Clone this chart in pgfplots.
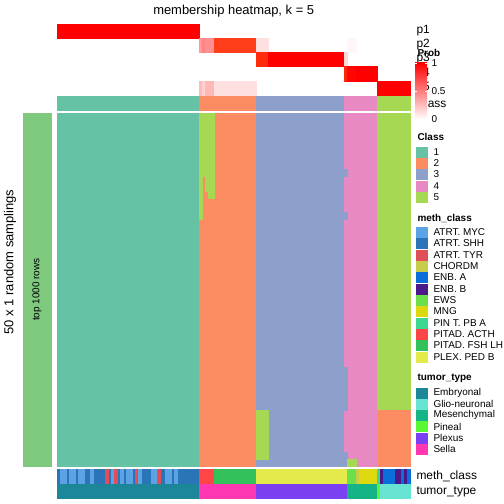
\documentclass[border=0pt]{standalone}
\usepackage{pgfplots}
\pgfplotsset{compat=1.18}
\usepackage{fontspec}
\setmainfont{Liberation Sans}
\definecolor{cA}{HTML}{66C2A5}
\definecolor{cB}{HTML}{FC8D62}
\definecolor{cC}{HTML}{8DA0CB}
\definecolor{cD}{HTML}{E78AC3}
\definecolor{cE}{HTML}{A6D854}
\definecolor{leftg}{HTML}{7FC97F}
\definecolor{mMYC}{HTML}{5CA3E6}
\definecolor{mSHH}{HTML}{2A74B8}
\definecolor{mTYR}{HTML}{E04E5A}
\definecolor{mCHO}{HTML}{C7CD4A}
\definecolor{mENA}{HTML}{0B6FD9}
\definecolor{mENB}{HTML}{4A1A8A}
\definecolor{mEWS}{HTML}{6CE04A}
\definecolor{mMNG}{HTML}{DED80E}
\definecolor{mPIN}{HTML}{3CD68E}
\definecolor{mACT}{HTML}{FF4646}
\definecolor{mFSH}{HTML}{33C15C}
\definecolor{mPLX}{HTML}{E4EA4C}
\definecolor{tEMB}{HTML}{1B8799}
\definecolor{tGLI}{HTML}{67E5D2}
\definecolor{tMES}{HTML}{14B486}
\definecolor{tPIN}{HTML}{5BF634}
\definecolor{tPLX}{HTML}{7A40F2}
\definecolor{tSEL}{HTML}{FF37B1}
\newcommand{\R}[5]{\addplot[fill=#5, draw=#5, line width=0.25pt, forget plot] coordinates {(#1,#2) (#3,#2) (#3,#4) (#1,#4)} -- cycle;}
\newcommand{\M}[3]{\R{#1}{469}{#2}{483}{#3}}
\newcommand{\T}[3]{\R{#1}{484.2}{#2}{498.5}{#3}}
\newcommand{\Lg}[3]{\R{416}{#1-5}{427}{#1+5}{#2}\node[anchor=west,font=\fontsize{10}{12}\selectfont] at (430,#1) {#3};}
\begin{document}
\begin{tikzpicture}
\useasboundingbox (0,0) rectangle (504bp,504bp);
\begin{axis}[at={(0,0)}, anchor=south west, width=504bp, height=504bp, scale only axis,
  xmin=0, xmax=504, ymin=0, ymax=504, y dir=reverse, hide axis, clip=false, no markers]
% title
\node[font=\fontsize{13}{15}\selectfont] at (233.7,11) {membership heatmap, k = 5};
% top annotation: probabilities
\R{57}{24}{199}{38}{red}
\R{199}{38}{202}{52}{red!40!white}
\R{202}{38}{205}{52}{red!48!white}
\R{205}{38}{214}{52}{red!44!white}
\R{214}{38}{256}{52}{red!68!orange!90!white}
\R{256}{38}{268}{52}{red!12!white}
\R{347}{38}{356}{52}{red!3!white}
\R{256}{52}{268}{66}{red!75!orange!95!white}
\R{268}{52}{344}{66}{red}
\R{344}{52}{347}{66}{red!15!white}
\R{344}{66}{347}{80.7}{red!80!orange!95!white}
\R{347}{66}{356}{80.7}{red!95!orange}
\R{356}{66}{377}{80.7}{red}
\R{199}{80.7}{202}{94.7}{red!27!white}
\R{202}{80.7}{205}{94.7}{red!18!white}
\R{205}{80.7}{214}{94.7}{red!28!white}
\R{214}{80.7}{256}{94.7}{red!12!white}
\R{377}{80.7}{410}{94.7}{red}
% class row
\R{57}{96}{199}{110}{cA}
\R{199}{96}{256}{110}{cB}
\R{256}{96}{344}{110}{cC}
\R{344}{96}{377}{110}{cD}
\R{377}{96}{410}{110}{cE}
% row labels
\node[anchor=west,font=\fontsize{12}{14}\selectfont] at (413,31) {p1};
\node[anchor=west,font=\fontsize{12}{14}\selectfont] at (413,45) {p2};
\node[anchor=west,font=\fontsize{12}{14}\selectfont] at (413,59) {p3};
\node[anchor=west,font=\fontsize{12}{14}\selectfont] at (413,73.3) {p4};
\node[anchor=west,font=\fontsize{12}{14}\selectfont] at (413,87.7) {p5};
\node[anchor=west,font=\fontsize{12}{14}\selectfont] at (413,103) {Class};
% left bar
\R{23}{113.3}{51}{466}{leftg}
\node[rotate=90,font=\fontsize{10}{12}\selectfont] at (37,289.6) {top 1000 rows};
\node[rotate=90,font=\fontsize{13}{15}\selectfont] at (10,262) {50 x 1 random samplings};
% main heatmap
\R{57}{113.3}{199}{466}{cA}
\R{199}{113.3}{256}{466}{cB}
\R{256}{113.3}{344}{466}{cC}
\R{344}{113.3}{377}{466}{cD}
\R{377}{113.3}{410}{410}{cE}
\R{377}{410}{410}{466}{cB}
\R{199}{113.3}{202}{218.7}{cE}
\R{202}{113.3}{205}{175.7}{cE}
\R{205}{113.3}{208}{190.7}{cE}
\R{208}{113.3}{214}{197.7}{cE}
\R{344}{169}{347}{175.7}{cC}
\R{344}{212}{347}{219}{cC}
\R{344}{366.7}{347}{410}{cC}
\R{344}{451.7}{347}{466}{cC}
\R{256}{410}{268}{459}{cE}
\R{347}{458.7}{356}{466}{cE}
% meth_class row
\M{57}{199}{mSHH}
\M{60}{66}{mMYC}
\M{69}{75}{mMYC}
\M{78}{84}{mMYC}
\M{90}{93}{mMYC}
\M{105}{108}{mTYR}
\M{111}{114}{mMYC}
\M{114}{117}{mTYR}
\M{120}{123}{mMYC}
\M{126}{132}{mMYC}
\M{135}{138}{mTYR}
\M{138}{141}{mMYC}
\M{151}{157}{mMYC}
\M{157}{160}{mTYR}
\M{165}{171}{mMYC}
\M{174}{177}{mMYC}
\M{199}{213.7}{mACT}
\M{213.7}{256}{mFSH}
\M{256}{347}{mPLX}
\M{347}{356}{mEWS}
\M{356}{359}{mCHO}
\M{359}{377}{mMNG}
\M{377}{380}{mPIN}
\M{380}{383}{mENB}
\M{383}{395}{mENA}
\M{395}{401}{mENB}
\M{401}{404}{mENA}
\M{404}{407}{mENB}
\M{407}{410}{mENA}
% tumor_type row
\T{57}{199}{tEMB}
\T{199}{256}{tSEL}
\T{256}{347}{tPLX}
\T{347}{377}{tMES}
\T{377}{380}{tPIN}
\T{380}{410}{tGLI}
\node[anchor=west,font=\fontsize{12}{14}\selectfont] at (413,476) {meth\_class};
\node[anchor=west,font=\fontsize{12}{14}\selectfont] at (413,491.5) {tumor\_type};
% Prob legend
\node[anchor=west,font=\bfseries\fontsize{10}{12}\selectfont] at (414,52.5) {Prob};
\shade[top color=red, bottom color=white] (415,63) rectangle (427,119.5);
\draw[white, line width=0.6pt] (415,91.2) -- (417,91.2) (425,91.2) -- (427,91.2);
\draw[white, line width=0.6pt] (415,63.3) -- (417,63.3) (425,63.3) -- (427,63.3);
\node[anchor=west,font=\fontsize{10}{12}\selectfont] at (428,63.3) {1};
\node[anchor=west,font=\fontsize{10}{12}\selectfont] at (428,91.2) {0.5};
\node[anchor=west,font=\fontsize{10}{12}\selectfont] at (428,119.3) {0};
% Class legend
\node[anchor=west,font=\bfseries\fontsize{10}{12}\selectfont] at (414,136.7) {Class};
\Lg{152}{cA}{1}
\Lg{163.3}{cB}{2}
\Lg{174.5}{cC}{3}
\Lg{185.7}{cD}{4}
\Lg{196.9}{cE}{5}
% meth_class legend
\node[anchor=west,font=\bfseries\fontsize{10}{12}\selectfont] at (414,218.3) {meth\_class};
\Lg{232}{mMYC}{ATRT. MYC}
\Lg{243.35}{mSHH}{ATRT. SHH}
\Lg{254.7}{mTYR}{ATRT. TYR}
\Lg{266.05}{mCHO}{CHORDM}
\Lg{277.4}{mENA}{ENB. A}
\Lg{288.75}{mENB}{ENB. B}
\Lg{300.1}{mEWS}{EWS}
\Lg{311.45}{mMNG}{MNG}
\Lg{322.8}{mPIN}{PIN T. PB A}
\Lg{334.15}{mACT}{PITAD. ACTH}
\Lg{345.5}{mFSH}{PITAD. FSH LH}
\Lg{356.85}{mPLX}{PLEX. PED B}
% tumor_type legend
\node[anchor=west,font=\bfseries\fontsize{10}{12}\selectfont] at (414,378.3) {tumor\_type};
\Lg{392.7}{tEMB}{Embryonal}
\Lg{403.95}{tGLI}{Glio-neuronal}
\Lg{415.2}{tMES}{Mesenchymal}
\Lg{426.45}{tPIN}{Pineal}
\Lg{437.7}{tPLX}{Plexus}
\Lg{448.95}{tSEL}{Sella}
\end{axis}
\end{tikzpicture}
\end{document}
